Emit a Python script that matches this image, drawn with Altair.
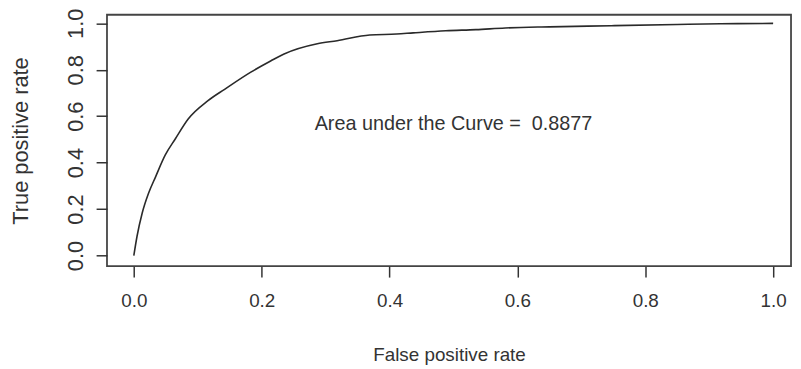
import altair as alt
import pandas as pd

fpr = [0, 0.005, 0.013, 0.023, 0.034, 0.049, 0.065, 0.085, 0.116, 0.142, 0.183,
       0.214, 0.235, 0.287, 0.318, 0.369, 0.411, 0.437, 0.488, 0.535, 0.581,
       0.65, 0.747, 0.85, 0.918, 1.0]
tpr = [0, 0.083, 0.182, 0.268, 0.339, 0.432, 0.503, 0.588, 0.667, 0.716, 0.79,
       0.838, 0.868, 0.912, 0.925, 0.95, 0.954, 0.959, 0.968, 0.973, 0.98,
       0.985, 0.99, 0.995, 0.998, 1.0]
tick_values = [0.0, 0.2, 0.4, 0.6, 0.8, 1.0]
label_text = ["Area under the Curve = \u00a00.8877"]
label_x = [0.5]
label_y = [0.565]

curve = pd.DataFrame({"fpr": fpr, "tpr": tpr})
ann = pd.DataFrame({"x": label_x, "y": label_y, "t": label_text})

FONT = "Liberation Sans"
INK = "#333333"

xscale = alt.Scale(domain=[-0.042, 1.028], nice=False, zero=False)
yscale = alt.Scale(domain=[-0.046, 1.037], nice=False, zero=False)

xaxis = alt.Axis(values=tick_values, format=".1f", title="False positive rate",
                 grid=False, domain=False, tickSize=11, tickColor=INK, tickWidth=1.5,
                 labelFont=FONT, labelFontSize=19, labelColor=INK, labelPadding=15,
                 titleFont=FONT, titleFontSize=19, titleFontWeight="normal",
                 titleColor=INK, titlePadding=35)
yaxis = alt.Axis(values=tick_values, format=".1f", title="True positive rate",
                 grid=False, domain=False, tickSize=11, tickColor=INK, tickWidth=1.5,
                 labelFont=FONT, labelFontSize=22, labelColor=INK, labelPadding=9,
                 labelAngle=270, labelAlign="center", labelBaseline="bottom",
                 titleFont=FONT, titleFontSize=22, titleFontWeight="normal",
                 titleColor=INK, titlePadding=32)

line = alt.Chart(curve).mark_line(color="#2a2a2a", strokeWidth=1.6,
                                  interpolate="monotone").encode(
    x=alt.X("fpr:Q", scale=xscale, axis=xaxis),
    y=alt.Y("tpr:Q", scale=yscale, axis=yaxis),
    order="fpr:Q",
)

text = alt.Chart(ann).mark_text(font=FONT, fontSize=20, color=INK,
                                align="center", baseline="middle").encode(
    x=alt.X("x:Q", scale=xscale),
    y=alt.Y("y:Q", scale=yscale),
    text="t:N",
)

chart = (line + text).properties(
    width=691, height=254,
    autosize=alt.AutoSizeParams(type="none"),
    padding={"left": 100, "top": 5, "right": 2, "bottom": 100},
    background="white",
).configure_view(stroke="#444444", strokeWidth=1.8)

chart.save("out.html", embed_options={"renderer": "svg", "actions": False})
